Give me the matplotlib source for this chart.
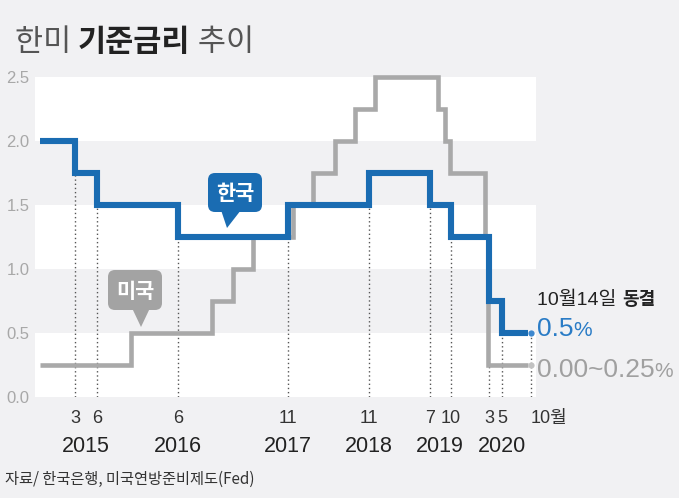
import matplotlib
matplotlib.use('Agg')
import matplotlib.pyplot as plt
from matplotlib import font_manager
from matplotlib.patches import FancyBboxPatch, Polygon
from matplotlib.transforms import Affine2D, blended_transform_factory

# months counted from Jan 2015 (0 = 2015-01)
kr_x = [-3.2, 2.0, 5.2, 17.2, 33.3, 45.3, 54.3, 57.4, 63.0, 64.9, 68.7]
kr_rate = [2.0, 1.75, 1.5, 1.25, 1.5, 1.75, 1.5, 1.25, 0.75, 0.5, 0.5]

us_x = [-3.2, 10.2, 22.2, 25.3, 28.2, 34.1, 37.0, 40.3, 43.2, 46.2,
        55.5, 56.5, 57.2, 62.4, 62.8, 68.7]
us_rate = [0.25, 0.5, 0.75, 1.0, 1.25, 1.5, 1.75, 2.0, 2.25, 2.5,
           2.25, 2.0, 1.75, 1.25, 0.25, 0.25]

mark_x = [2.0, 5.2, 17.2, 33.3, 45.3, 54.3, 57.4, 63.0, 64.9, 69.1]
mark_low = [1.75, 1.5, 1.25, 1.25, 1.5, 1.5, 1.25, 0.25, 0.5, 0.5]
month_labels = ['3', '6', '6', '11', '11', '7', '10', '3', '5', '10월']
year_labels = ['2015', '2016', '2017', '2018', '2019', '2020']
year_x = [3.6, 17.2, 33.3, 45.3, 55.8, 64.9]

end_x = 69.1
kr_last = 0.5
us_last = 0.25

yticks = [0.0, 0.5, 1.0, 1.5, 2.0, 2.5]

BG = '#f1f1f3'
BLUE = '#1a6cb2'
GREY = '#a9a9a9'

names = {f.name for f in font_manager.fontManager.ttflist}
NARROW = 'Liberation Sans Narrow' if 'Liberation Sans Narrow' in names else 'Liberation Sans'
KR = 'Noto Sans CJK KR'

W, H = 679, 498
fig = plt.figure(figsize=(W / 100, H / 100), dpi=100, facecolor=BG)
pix = Affine2D().scale(1 / W, 1 / H) + fig.transFigure


def fy(y):
    return H - y


ax = fig.add_axes([35 / W, (H - 397) / H, 501 / W, 320 / H])
ax.set_facecolor(BG)
for lo in [0.0, 1.0, 2.0]:
    ax.axhspan(lo, lo + 0.5, color='white', lw=0, zorder=0)
ax.set_xlim(-3.89, 69.9)
ax.set_ylim(0, 2.5)
for s in ax.spines.values():
    s.set_visible(False)
ax.set_xticks([])
ax.set_yticks(yticks)
ax.set_yticklabels(['%.1f' % v for v in yticks], family=NARROW, fontsize=12, color='#a8a8a8')
ax.tick_params(axis='y', length=0, pad=4)

# dotted guide lines
ax.vlines(mark_x, 0, mark_low, colors='#555555', lw=1, linestyles=(0, (1, 2)), zorder=1)

ax.step(us_x, us_rate, where='post', color=GREY, lw=3.3, zorder=2,
        solid_joinstyle='miter', solid_capstyle='butt', clip_on=False)
ax.step(kr_x, kr_rate, where='post', color=BLUE, lw=4.4, zorder=3,
        solid_joinstyle='miter', solid_capstyle='butt', clip_on=False)
ax.plot(end_x, kr_last, 'o', ms=4.5, color='#3d88cf', mec='none', zorder=4)
ax.plot(end_x, us_last, 'o', ms=4.5, color='#c2c2c2', mec='none', zorder=4)

# x labels
xt = blended_transform_factory(ax.transData, pix)
for x, lab in zip(mark_x, month_labels):
    if lab.endswith('월'):
        ax.text(x, fy(423), lab, transform=xt, ha='left', va='baseline', fontsize=13,
                family=[NARROW, KR], color='#333333')
    else:
        ax.text(x, fy(423), lab, transform=xt, ha='center', va='baseline', fontsize=13,
                family=NARROW, color='#333333')
for x, lab in zip(year_x, year_labels):
    ax.text(x, fy(452), lab, transform=xt, ha='center', va='baseline', fontsize=15.5,
            family=NARROW, color='#222222')

rend = fig.canvas.get_renderer()


def runs(x, y, parts):
    for s, kw in parts:
        t = fig.text(x, fy(y), s, transform=pix, ha='left', va='baseline', **kw)
        x += t.get_window_extent(rend).width


# title
runs(15, 51, [('한미 ', dict(family=KR, fontsize=22, color='#555555', weight='light')),
              ('기준금리', dict(family=KR, fontsize=22, color='#222222', weight='bold')),
              (' 추이', dict(family=KR, fontsize=22, color='#555555', weight='light'))])

# right side notes
runs(537, 305, [('10월14일 ', dict(family=[NARROW, KR], fontsize=14, color='#222222')),
                ('동결', dict(family=KR, fontsize=13, color='#222222', weight='bold'))])
runs(537, 336, [('0.5', dict(family=NARROW, fontsize=19, color='#2a7cc6')),
                ('%', dict(family=NARROW, fontsize=15, color='#2a7cc6'))])
runs(537, 377, [('0.00~0.25', dict(family=NARROW, fontsize=19, color='#a0a0a0')),
                ('%', dict(family=NARROW, fontsize=15, color='#a0a0a0'))])


# speech bubbles
def bubble(x0, y0, x1, y1, tail, color, text):
    box = FancyBboxPatch((x0, fy(y1)), x1 - x0, y1 - y0,
                         boxstyle='round,pad=0,rounding_size=7',
                         transform=pix, fc=color, ec='none', zorder=5)
    fig.add_artist(box)
    tri = Polygon([(px, fy(py)) for px, py in tail], closed=True,
                  transform=pix, fc=color, ec='none', zorder=5)
    fig.add_artist(tri)
    fig.text((x0 + x1) / 2, fy((y0 + y1) / 2 + 1), text, transform=pix, ha='center',
             va='center', family=KR, weight='bold', fontsize=15, color='white', zorder=6)


bubble(208, 173, 262, 212, [(221, 210), (241, 210), (227, 228)], BLUE, '한국')
bubble(108, 270, 162, 310, [(132, 308), (150, 308), (141, 327)], '#a3a3a3', '미국')

# source
fig.text(5, fy(484), '자료/ 한국은행, 미국연방준비제도(Fed)', transform=pix, ha='left',
         va='baseline', family=KR, fontsize=11, color='#333333', style='italic')

fig.savefig('out.png', dpi=100, facecolor=BG)
